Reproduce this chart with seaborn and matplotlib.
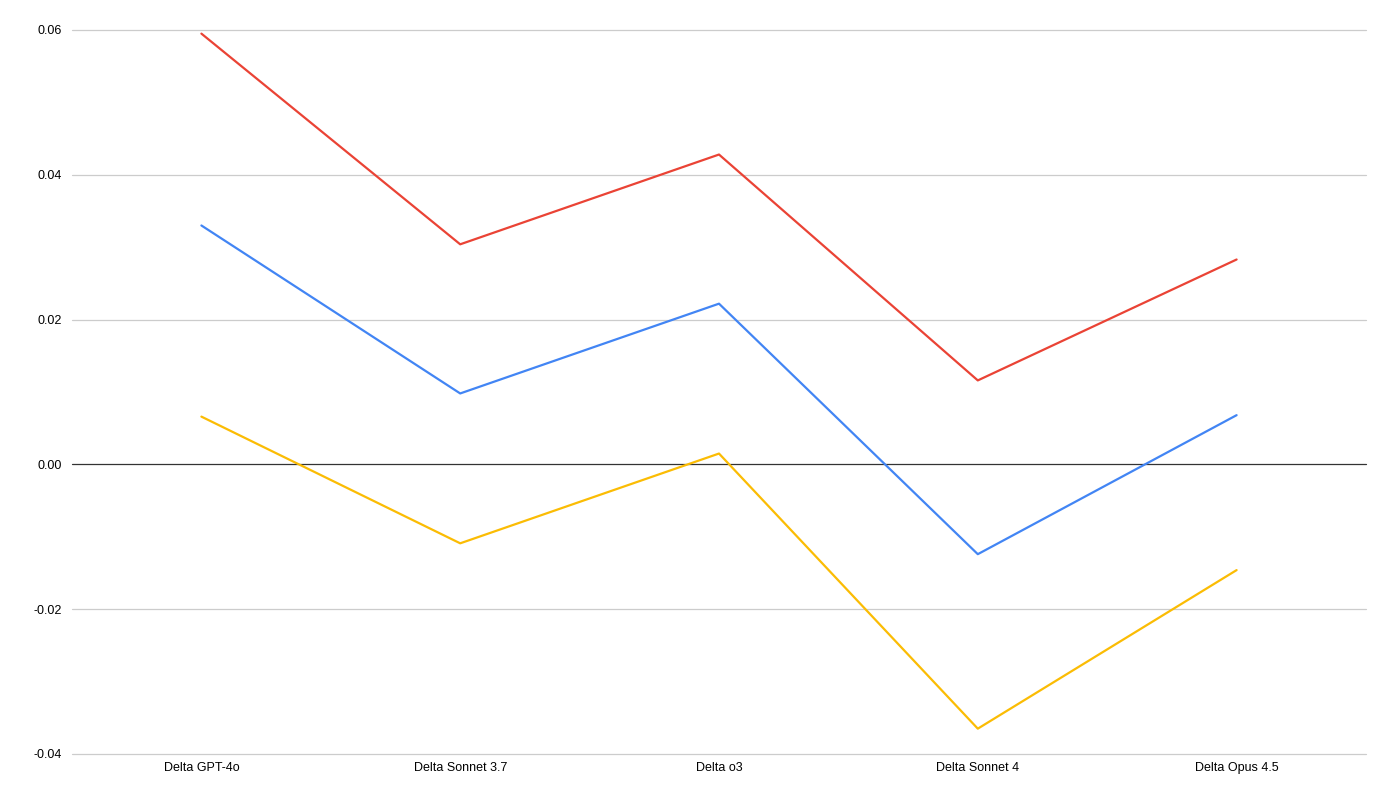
import pandas as pd
import matplotlib
matplotlib.use("Agg")
import matplotlib.pyplot as plt
import seaborn as sns

sns.set_style("white")
plt.rcParams['font.family'] = ['Liberation Sans', 'DejaVu Sans']

# deltas per model
models = ['Delta GPT-4o', 'Delta Sonnet 3.7', 'Delta o3', 'Delta Sonnet 4', 'Delta Opus 4.5']
red_vals = [0.0595, 0.0304, 0.0428, 0.0116, 0.0283]
blue_vals = [0.0330, 0.0098, 0.0222, -0.0124, 0.0068]
yellow_vals = [0.0066, -0.0109, 0.0015, -0.0365, -0.0146]
series_names = ['yellow', 'blue', 'red']
colors = {'yellow': '#FBBC04', 'blue': '#4285F4', 'red': '#EA4335'}
yticks = [-0.04, -0.02, 0.00, 0.02, 0.04, 0.06]

df = pd.DataFrame({
    'model': models * 3,
    'x': list(range(len(models))) * 3,
    'value': yellow_vals + blue_vals + red_vals,
    'series': [s for s in series_names for _ in models],
})

fig = plt.figure(figsize=(13.96, 8.07), dpi=100)
ax = fig.add_axes([72 / 1396, 1 - 754 / 807, (1366 - 72) / 1396, (754 - 30) / 807])

# gridlines first so lines sit on top
for t in yticks:
    ax.axhline(t, color='#333333' if t == 0 else '#cccccc', lw=0.9, zorder=1, clip_on=False)

sns.lineplot(data=df, x='x', y='value', hue='series', palette=colors,
             hue_order=series_names, linewidth=1.6, legend=False, ax=ax, zorder=3)

ax.set_xlim(-0.5, len(models) - 0.5)
ax.set_ylim(-0.04, 0.06)
ax.set_xticks(range(len(models)))
ax.set_xticklabels(models, fontsize=9, color='black')
ax.set_yticks(yticks)
ax.set_yticklabels(['%.2f' % t for t in yticks], fontsize=9, color='black')
ax.tick_params(axis='both', length=0)
ax.tick_params(axis='y', pad=7)
ax.tick_params(axis='x', pad=6)
ax.set_xlabel('')
ax.set_ylabel('')
sns.despine(ax=ax, left=True, bottom=True, top=True, right=True)

fig.savefig('out.png', dpi=100, facecolor='white')
